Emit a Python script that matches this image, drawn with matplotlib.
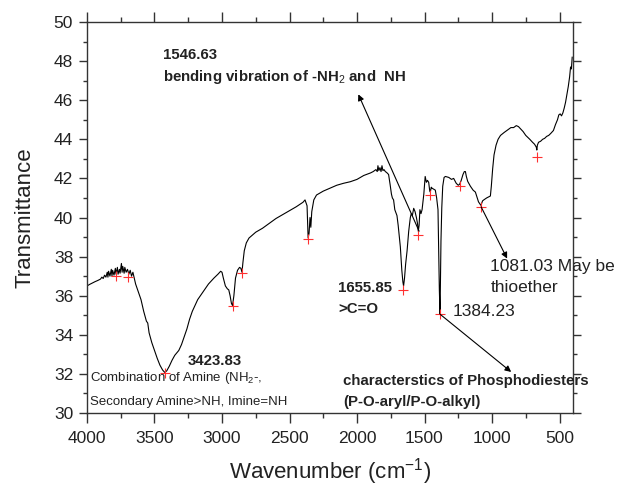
import matplotlib
matplotlib.use("Agg")
import matplotlib.pyplot as plt
from matplotlib.ticker import MultipleLocator

plt.rcParams['font.family'] = ['Liberation Sans', 'DejaVu Sans']
plt.rcParams['mathtext.fontset'] = 'custom'
plt.rcParams['mathtext.rm'] = 'Liberation Sans'
plt.rcParams['mathtext.bf'] = 'Liberation Sans:bold'

# FTIR spectrum (wavenumber cm-1, transmittance)
wavenumber = [4000, 3980, 3960, 3940, 3920, 3900, 3890, 3880, 3870, 3860, 3850, 3845, 3840, 3830,
              3820, 3815, 3810, 3800, 3790, 3785, 3775, 3770, 3760, 3755, 3745, 3740, 3735, 3725,
              3720, 3710, 3700, 3690, 3680, 3670, 3660, 3650,
              3640, 3620, 3600, 3580, 3560, 3550, 3540, 3520, 3500, 3480, 3460, 3440, 3425, 3410,
              3390, 3370, 3350, 3320, 3300, 3280, 3260, 3240, 3220, 3200, 3180, 3150, 3120, 3100,
              3060, 3030, 3010, 3000, 2990, 2975, 2960, 2950, 2940, 2930, 2922, 2912, 2900, 2885,
              2870, 2860, 2852, 2845, 2835, 2820, 2800, 2750, 2700, 2650, 2600, 2550, 2500, 2450,
              2400, 2385, 2370, 2362, 2355, 2348, 2342, 2335, 2320, 2300, 2250, 2200, 2150, 2100,
              2050, 2000, 1950, 1900, 1880, 1860, 1850, 1845, 1838, 1830, 1822, 1815, 1808, 1800,
              1790, 1780, 1766, 1755, 1745, 1738, 1729, 1720, 1704, 1695, 1679, 1668, 1660, 1655,
              1648, 1640, 1629, 1617, 1605, 1598, 1590, 1580, 1570, 1560, 1552, 1546, 1540, 1534,
              1526, 1518, 1505, 1495, 1486, 1478, 1469, 1462, 1457, 1450, 1444, 1432, 1420, 1410,
              1400, 1395, 1390, 1385, 1382, 1378, 1372, 1365, 1355, 1345, 1320, 1300, 1284, 1265,
              1250, 1240, 1228, 1215, 1205, 1197, 1190, 1180, 1160, 1140, 1123, 1100, 1090, 1082,
              1070, 1061, 1040, 1024, 1012, 1005, 995, 985, 970, 955, 937, 910, 880, 860, 840, 820,
              804, 790, 770, 750, 735, 720, 700, 685, 672, 668, 664, 655, 640, 625, 610, 595, 580,
              565, 545, 530, 515, 505, 495, 485, 475, 465, 455, 445, 435, 425, 418, 412, 406]
transmittance = [36.50, 36.58, 36.65, 36.72, 36.78, 36.85, 36.95, 36.88, 37.05, 36.95, 37.20, 36.95, 37.25, 37.00,
                 37.35, 37.00, 37.30, 37.05, 37.40, 37.10, 37.45, 37.10, 37.35, 37.15, 37.65, 37.20, 37.50, 37.15,
                 37.45, 37.20, 37.35, 37.10, 37.30, 37.00, 37.20, 36.90,
                 36.60, 36.20, 35.80, 35.20, 34.70, 34.60, 34.10, 33.60, 33.20, 32.80, 32.45, 32.20, 32.08, 32.15,
                 32.40, 32.70, 32.95, 33.20, 33.50, 33.90, 34.30, 34.80, 35.20, 35.50, 35.80, 36.10, 36.40, 36.60,
                 36.90, 37.10, 37.25, 37.20, 36.90, 36.50, 36.35, 36.30, 36.00, 35.60, 35.50, 36.00, 36.90, 37.30,
                 37.45, 37.40, 37.20, 37.70, 38.30, 38.70, 38.95, 39.25, 39.45, 39.70, 39.95, 40.15, 40.35, 40.55,
                 40.78, 40.90, 40.60, 38.95, 39.20, 40.00, 39.50, 40.30, 40.90, 41.15, 41.35, 41.50, 41.65, 41.75,
                 41.83, 41.95, 42.15, 42.28, 42.35, 42.45, 42.35, 42.65, 42.40, 42.55, 42.35, 42.65, 42.40, 42.45,
                 42.35, 42.30, 42.20, 41.70, 41.20, 41.00, 40.90, 40.40, 40.10, 39.60, 38.50, 37.30, 36.70, 36.50,
                 36.90, 37.60, 38.30, 39.30, 40.00, 40.20, 40.10, 40.47, 40.30, 40.00, 39.70, 39.30, 39.60, 40.40,
                 40.20, 40.40, 41.20, 42.10, 41.80, 41.90, 41.80, 41.40, 41.30, 41.55, 41.50, 41.45, 41.40, 41.00,
                 40.40, 38.50, 36.30, 35.05, 36.60, 38.80, 40.50, 41.60, 42.05, 42.10, 42.05, 41.95, 42.00, 41.75,
                 41.65, 41.70, 41.90, 42.20, 42.35, 42.35, 42.10, 41.85, 41.60, 41.40, 41.30, 40.80, 40.70, 40.62,
                 40.85, 40.90, 41.00, 41.06, 41.10, 41.60, 42.50, 43.20, 43.70, 44.00, 44.20, 44.35, 44.50, 44.60, 44.60, 44.70,
                 44.65, 44.55, 44.40, 44.20, 44.10, 44.00, 43.85, 43.75, 43.60, 43.45, 43.70, 43.85, 43.90, 44.00, 44.05, 44.15, 44.20,
                 44.30, 44.45, 44.75, 45.00, 45.25, 45.30, 45.20, 45.35, 45.60, 45.90, 46.30, 46.70, 47.20, 47.70, 47.60, 48.20]

# Marked peaks
peak_wn = [3785, 3698, 3423.83, 2922, 2850, 2361, 1655.85, 1546.63, 1457, 1384.23, 1240, 1081.03, 668]
peak_t = [37.0, 36.97, 32.06, 35.47, 37.18, 38.9, 36.3, 39.1, 41.15, 35.05, 41.6, 40.55, 43.1]

fig = plt.figure(figsize=(6.25, 4.86), dpi=100)
ax = fig.add_axes([0.1392, 0.1502, 0.7776, 0.8045])

ax.plot(wavenumber, transmittance, color='black', lw=0.8)
ax.plot(peak_wn, peak_t, linestyle='none', marker='+', color='#ff3030', ms=7, mew=0.8)

ax.set_xlim(4000, 400)
ax.set_ylim(30, 50)
ax.xaxis.set_major_locator(MultipleLocator(500))
ax.xaxis.set_minor_locator(MultipleLocator(250))
ax.yaxis.set_major_locator(MultipleLocator(2))
ax.yaxis.set_minor_locator(MultipleLocator(1))

spc = '#333333'
for s in ax.spines.values():
    s.set_color(spc)
    s.set_linewidth(1.0)

ax.tick_params(axis='x', which='major', direction='out', length=7, width=1.0, color=spc,
               top=True, labelsize=12.5, pad=6, labelcolor='#222222')
ax.tick_params(axis='x', which='minor', direction='out', length=3.5, width=1.0, color=spc, top=True)
ax.tick_params(axis='y', which='major', direction='out', length=6, width=1.0, color=spc,
               right=True, labelsize=12.5, pad=4, labelcolor='#222222')
ax.tick_params(axis='y', which='minor', direction='out', length=3, width=1.0, color=spc, right=True)

ax.set_xlabel('Wavenumber (cm$^{-1}$)', fontsize=16, color='#222222', labelpad=7)
ax.set_ylabel('Transmittance', fontsize=16, color='#222222', labelpad=13)

tc = '#222222'
# annotations
ax.text(3436, 48.31, '1546.63', fontsize=10.8, fontweight='bold', color=tc, va='center', ha='left')
ax.text(3436, 47.19, 'bending vibration of -NH$_2$ and  NH', fontsize=10.8, fontweight='bold',
        color=tc, va='center', ha='left')
ax.annotate('', xy=(1990, 46.3), xytext=(1540, 39.3),
            arrowprops=dict(arrowstyle='-|>', color='black', lw=0.8, mutation_scale=9,
                            shrinkA=0, shrinkB=0))

ax.text(3251, 32.68, '3423.83', fontsize=10.8, fontweight='bold', color=tc, va='center', ha='left')
ax.text(3978, 31.79, 'Combination of Amine (NH$_2$-,', fontsize=9.5, color=tc, va='center', ha='left')
ax.text(3978, 30.58, 'Secondary Amine>NH, Imine=NH', fontsize=9.5, color=tc, va='center', ha='left')

ax.text(2139, 36.39, '1655.85', fontsize=10.8, fontweight='bold', color=tc, va='center', ha='left')
ax.text(2139, 35.32, '>C=O', fontsize=10.8, fontweight='bold', color=tc, va='center', ha='left')

ax.text(1293, 35.17, '1384.23', fontsize=12.5, color=tc, va='center', ha='left')
ax.annotate('', xy=(858, 32.1), xytext=(1384.23, 35.05),
            arrowprops=dict(arrowstyle='-|>', color='black', lw=0.8, mutation_scale=9,
                            shrinkA=0, shrinkB=0))
ax.text(2102, 31.64, 'characterstics of Phosphodiesters', fontsize=10.8, fontweight='bold',
        color=tc, va='center', ha='left')
ax.text(2102, 30.58, '(P-O-aryl/P-O-alkyl)', fontsize=10.8, fontweight='bold',
        color=tc, va='center', ha='left')

ax.text(1012, 37.47, '1081.03 May be', fontsize=12.5, color=tc, va='center', ha='left', clip_on=False)
ax.text(1012, 36.44, 'thioether', fontsize=12.5, color=tc, va='center', ha='left')
ax.annotate('', xy=(888, 37.9), xytext=(1081.03, 40.55),
            arrowprops=dict(arrowstyle='-|>', color='black', lw=0.8, mutation_scale=9,
                            shrinkA=0, shrinkB=0))

fig.savefig('out.png', dpi=100)
